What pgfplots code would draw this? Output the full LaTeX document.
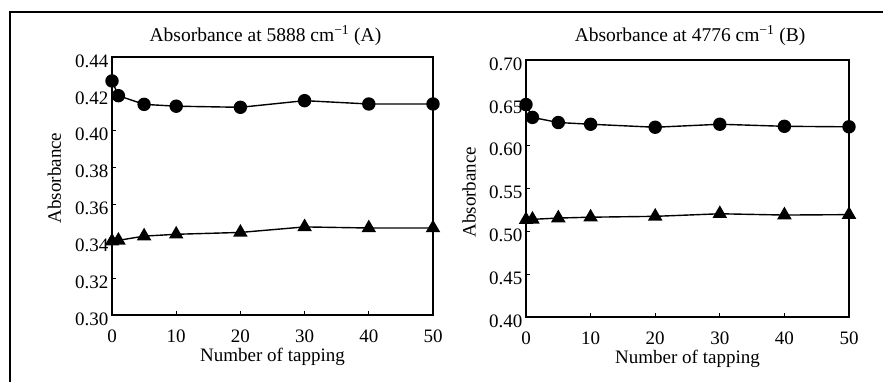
\documentclass[border=0pt]{standalone}
\usepackage{fontspec}
\setmainfont{Liberation Serif}
\usepackage{pgfplots}
\pgfplotsset{compat=1.18}
\pgfplotsset{
  myax/.style={
    scale only axis,
    axis line style={line width=1.7pt},
    tick style={line width=1pt, black},
    major tick length=4pt,
    tick align=inside,
    xtick pos=left, ytick pos=left,
    xmin=0, xmax=50, xtick={0,10,...,50},
    ticklabel style={font=\fontsize{19}{21}\selectfont},
    /pgf/number format/assume math mode=true,
    yticklabel style={/pgf/number format/fixed, /pgf/number format/fixed zerofill, /pgf/number format/precision=2, yshift=-4pt},
    xticklabel style={yshift=-11pt},
    xlabel={Number of tapping},
    ylabel={Absorbance},
    label style={font=\fontsize{19}{21}\selectfont},
    xlabel style={at={(axis description cs:0.5,0)}, anchor=base, yshift=-47pt},
    title style={font=\fontsize{19.5}{21}\selectfont, anchor=base},
    clip=false,
  },
  circ/.style={black, line width=1.4pt, mark=*, mark size=6pt, mark options={solid}},
  tri/.style={black, line width=1.4pt, mark=triangle*, mark size=7pt, mark options={solid}},
}
\begin{document}
\begin{tikzpicture}
\useasboundingbox (0pt,0pt) rectangle (883pt,382pt);
\draw[line width=2pt] (10pt,0pt) -- (10pt,370pt) -- (883pt,370pt);
\begin{axis}[myax, at={(112pt,67pt)}, anchor=south west, width=321pt, height=258pt,
  ymin=0.30, ymax=0.44, ytick={0.30,0.32,...,0.44},
  title style={at={(axis description cs:0.478,1)}, yshift=9pt},
  ylabel style={at={(axis description cs:0,0.531)}, anchor=center, rotate=0, yshift=57.5pt},
  title={Absorbance at 5888 cm\textsuperscript{\char"2212 1} (A)}]
\addplot[circ] coordinates {(0,0.427) (1,0.419) (5,0.4143) (10,0.4133) (20,0.4127) (30,0.4163) (40,0.4145) (50,0.4145)};
\addplot[tri] coordinates {(0,0.340) (1,0.3405) (5,0.3428) (10,0.3438) (20,0.3448) (30,0.3478) (40,0.3472) (50,0.3472)};
\end{axis}
\begin{axis}[myax, at={(526pt,65pt)}, anchor=south west, width=323pt, height=257pt,
  ymin=0.40, ymax=0.70, ytick={0.40,0.45,...,0.70},
  title style={at={(axis description cs:0.508,1)}, yshift=12pt},
  ylabel style={at={(axis description cs:0,0.486)}, anchor=center, yshift=57pt},
  title={Absorbance at 4776 cm\textsuperscript{\char"2212 1} (B)}]
\addplot[circ] coordinates {(0,0.648) (1,0.633) (5,0.627) (10,0.625) (20,0.6215) (30,0.625) (40,0.6226) (50,0.622)};
\addplot[tri] coordinates {(0,0.5135) (1,0.514) (5,0.5155) (10,0.5165) (20,0.5175) (30,0.5205) (40,0.519) (50,0.5195)};
\end{axis}
\end{tikzpicture}
\end{document}
